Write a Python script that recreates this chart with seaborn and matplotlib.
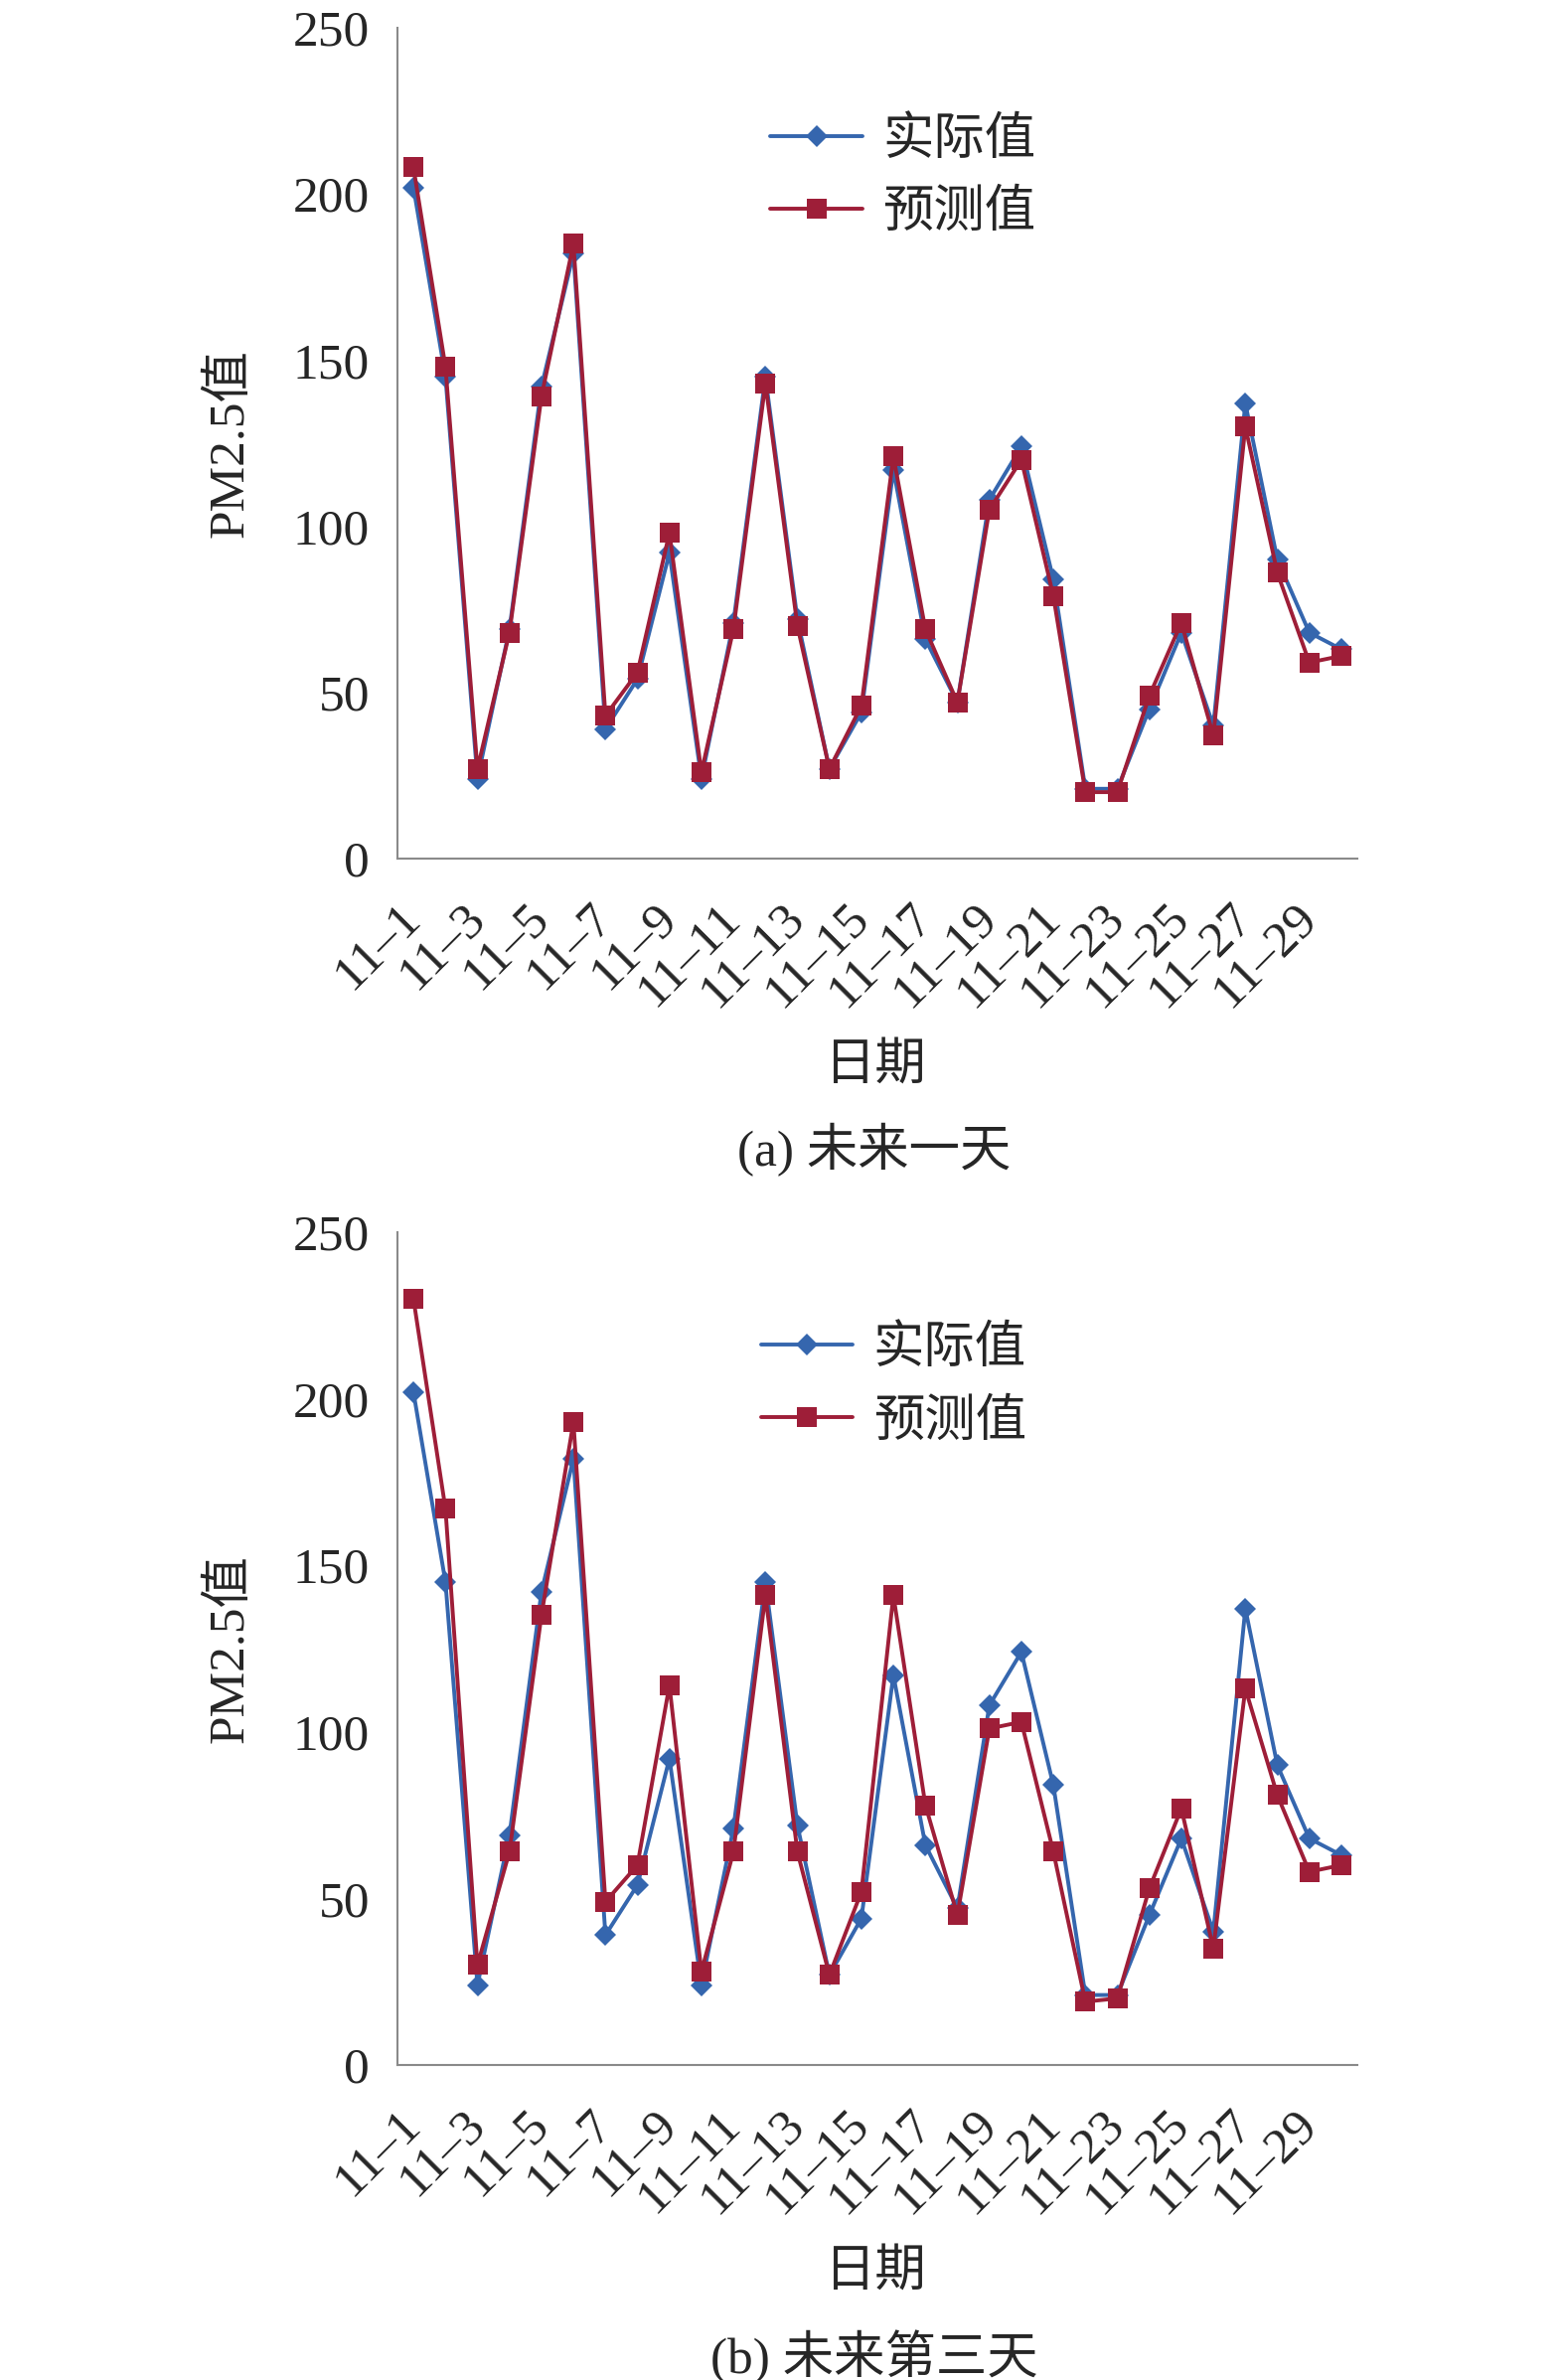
import pandas as pd
import seaborn as sns
import matplotlib.pyplot as plt

# dates 11-1 .. 11-30
days = [f'11–{d}' for d in range(1, 31)]

actual = [202, 145, 24, 69, 142, 182, 39, 54, 92, 24,
          71, 145, 72, 27, 44, 117, 66, 47, 108, 124,
          84, 21, 21, 45, 68, 40, 137, 90, 68, 63]
pred_day1 = [208, 148, 27, 68, 139, 185, 43, 56, 98, 26,
             69, 143, 70, 27, 46, 121, 69, 47, 105, 120,
             79, 20, 20, 49, 71, 37, 130, 86, 59, 61]
pred_day3 = [230, 167, 30, 64, 135, 193, 49, 60, 114, 28,
             64, 141, 64, 27, 52, 141, 78, 45, 101, 103,
             64, 19, 20, 53, 77, 35, 113, 81, 58, 60]

series_names = ['实际值', '预测值']
captions = ['(a) 未来一天', '(b) 未来第三天']

sns.set_style('white')
plt.rcParams['font.family'] = ['Liberation Serif', 'Noto Sans CJK SC']
plt.rcParams['axes.unicode_minus'] = False

BLUE = '#3566AE'
RED = '#9E1E38'
FS = 37

W, H = 1575, 2395
fig = plt.figure(figsize=(W / 100, H / 100), dpi=100)

panels = [
    # (top px, bottom px, predictions, legend x, legend y, caption y px)
    (28, 864, pred_day1, 0.362, 0.82, 1157),
    (1240, 2078, pred_day3, 0.352, 0.815, 2372),
]

for (top, bottom, pred, lx, ly, cap_y), caption in zip(panels, captions):
    ax = fig.add_axes([400 / W, 1 - bottom / H, 966 / W, (bottom - top) / H])

    df = pd.DataFrame({
        'idx': list(range(len(days))) * 2,
        'value': actual + pred,
        'series': [series_names[0]] * len(days) + [series_names[1]] * len(days),
    })
    sns.lineplot(data=df, x='idx', y='value', hue='series', style='series',
                 palette={series_names[0]: BLUE, series_names[1]: RED},
                 markers={series_names[0]: 'D', series_names[1]: 's'},
                 dashes=False, linewidth=2.8, markeredgewidth=0, ax=ax)
    for ln in ax.lines:
        if ln.get_marker() == 's':
            ln.set_markersize(15)
        elif ln.get_marker() == 'D':
            ln.set_markersize(11)

    ax.set_xlim(-0.5, len(days) - 0.5)
    ax.set_ylim(0, 250)
    ax.set_yticks([0, 50, 100, 150, 200, 250])

    # ticks on category boundaries, labels at centres of odd days
    ax.set_xticks([i - 0.5 for i in range(len(days) + 1)])
    ax.set_xticklabels([])
    ax.set_xticks(list(range(0, len(days), 2)), minor=True)
    ax.set_xticklabels(days[::2], minor=True, rotation=45, ha='right',
                       va='center', rotation_mode='anchor', fontsize=FS)
    ax.tick_params(axis='x', which='minor', length=0, pad=38)
    ax.tick_params(axis='x', which='major', direction='out', length=10,
                   width=1.5, color='#8a8a8a')
    ax.tick_params(axis='y', direction='out', length=10, width=1.5,
                   color='#8a8a8a', labelsize=FS, pad=10)

    for side in ['top', 'right']:
        ax.spines[side].set_visible(False)
    for side in ['left', 'bottom']:
        ax.spines[side].set_color('#8a8a8a')
        ax.spines[side].set_linewidth(1.5)

    ax.set_xlabel('日期', fontsize=FS)
    ax.set_ylabel('PM2.5值', fontsize=FS)
    ax.xaxis.set_label_coords(0.498, -0.222)
    ax.yaxis.set_label_coords(-0.15, 0.5)

    ax.legend(loc='center left', bbox_to_anchor=(lx, ly), frameon=False,
              fontsize=FS, borderpad=0, handlelength=1.8, handletextpad=0.4,
              labelspacing=0.5)

    fig.text(880 / W, 1 - cap_y / H, caption, ha='center', va='center',
             fontsize=FS)

fig.savefig('out.png', dpi=100)
